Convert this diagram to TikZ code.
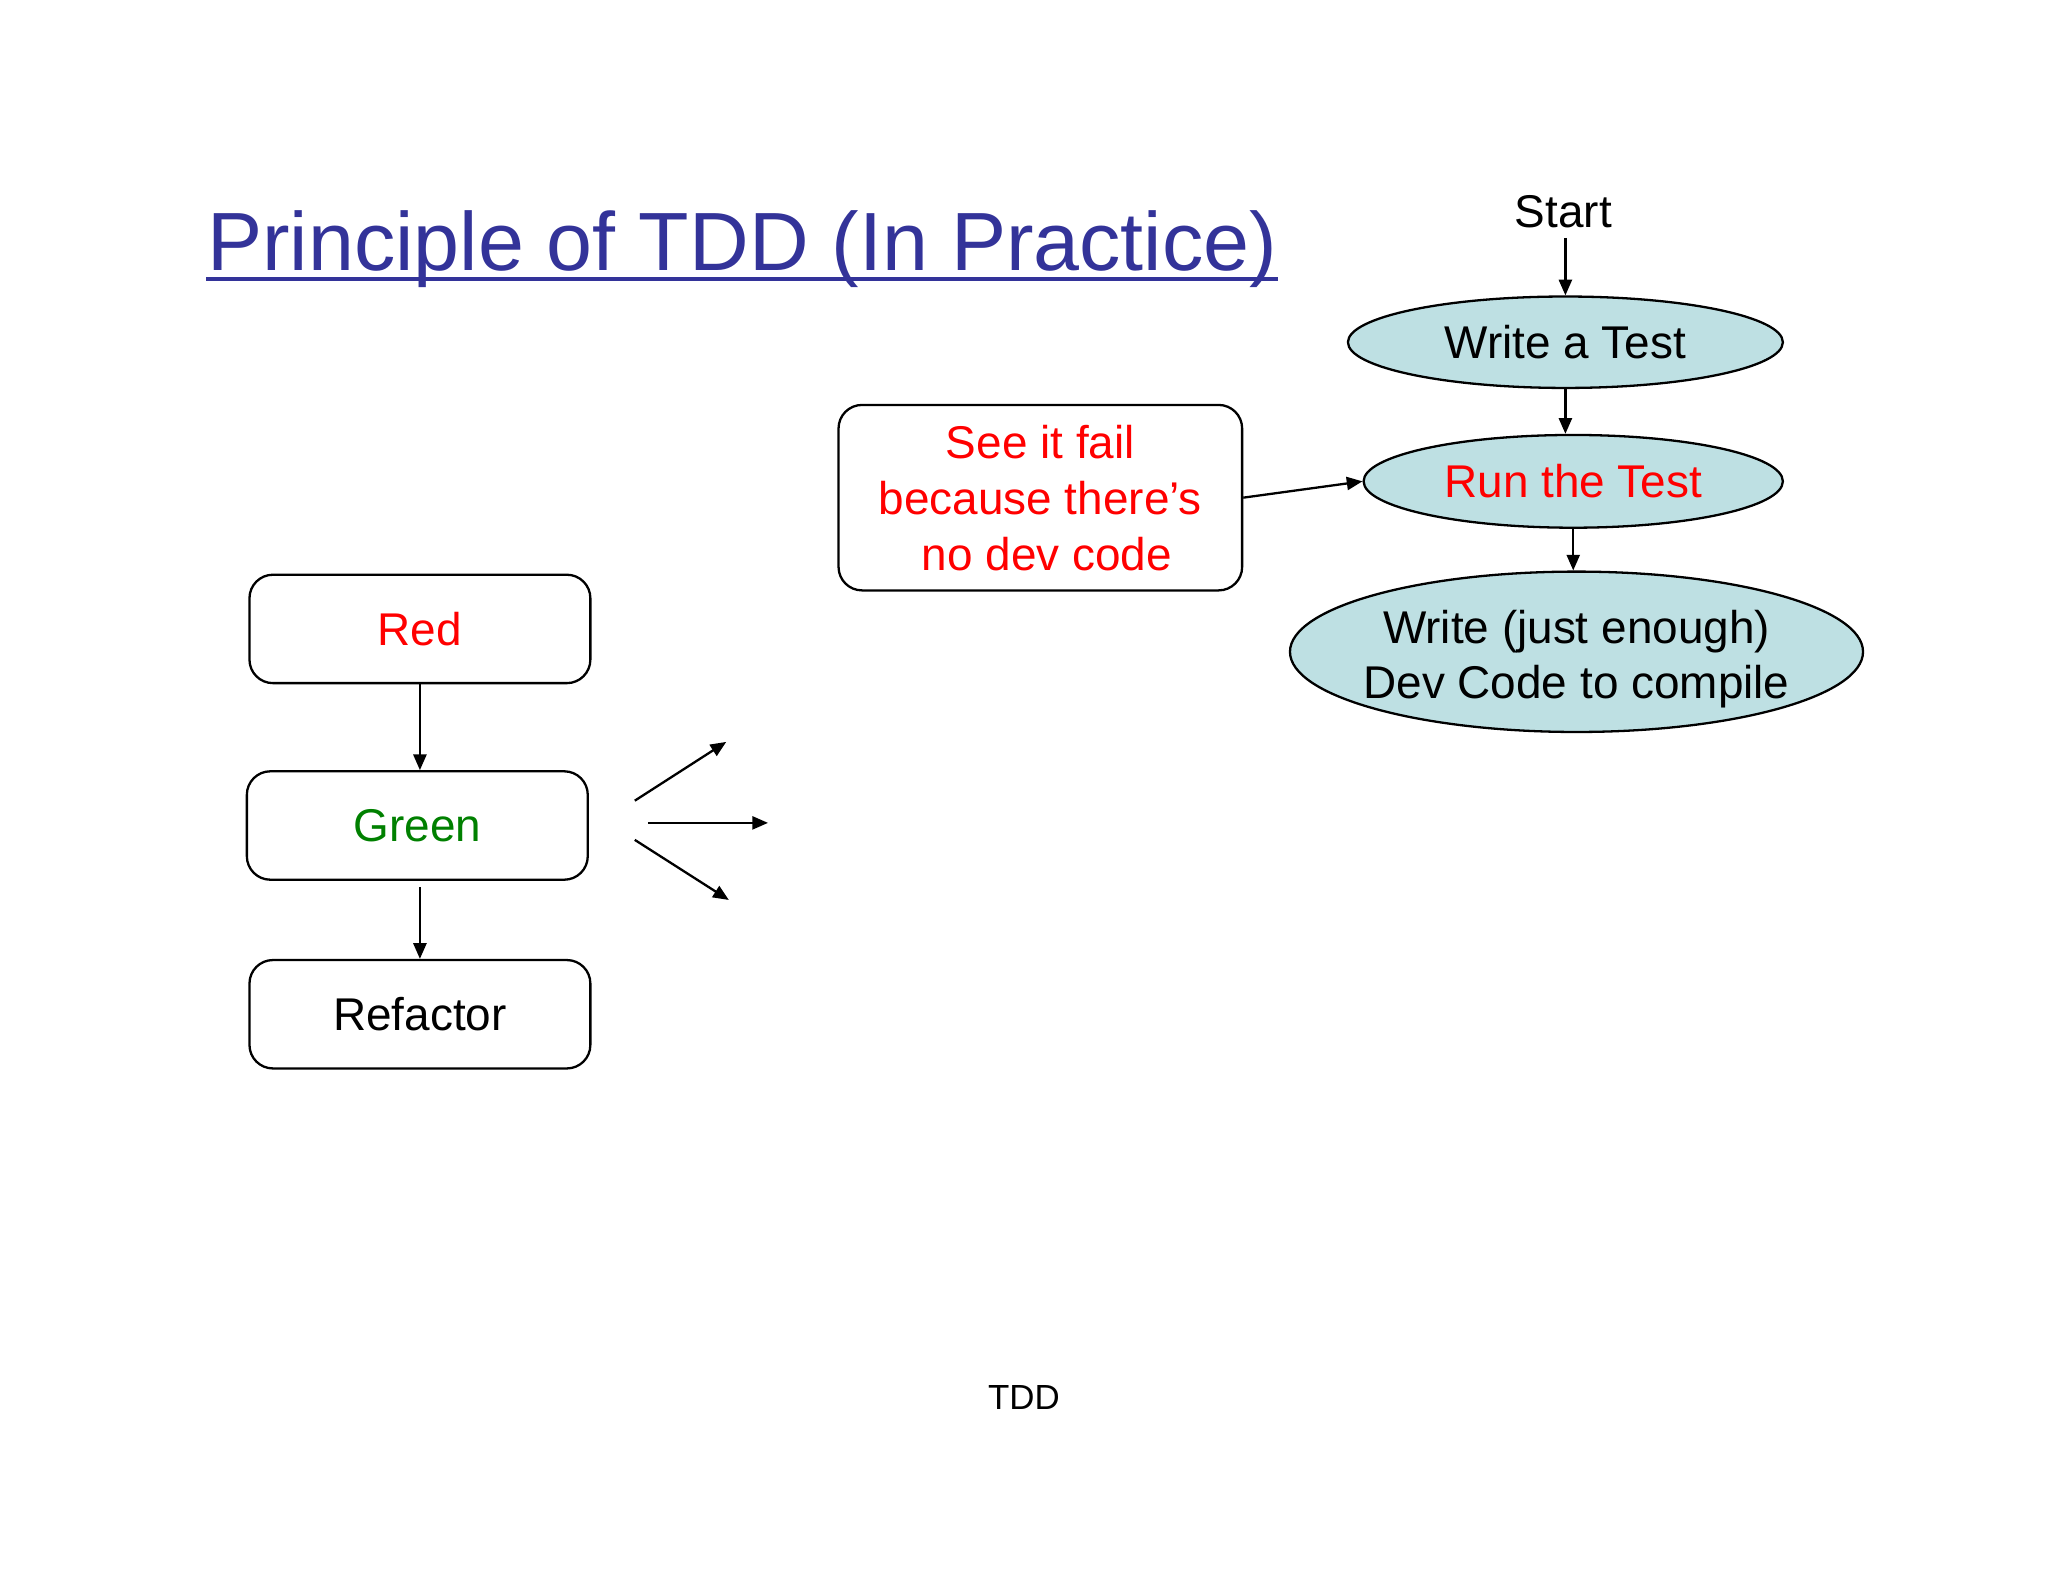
\documentclass[tikz,border=0pt]{standalone}
\usepackage{fontspec}
\setmainfont{Liberation Sans}
\usepackage{tikz}
\usetikzlibrary{shapes.geometric}
\usetikzlibrary{arrows.meta}
\usetikzlibrary{positioning}
\definecolor{titleblue}{RGB}{51,51,153}
\definecolor{bubblefill}{RGB}{190,224,227}
\definecolor{passgreen}{RGB}{0,128,0}
\tikzstyle{node_text}=[font=\fontsize{10}{12.2}\selectfont, inner sep=0pt, align=center]
\tikzstyle{phase_box}=[node_text, draw=black, line width=0.5pt, rounded corners=0.18cm,
    minimum width=2.61cm, minimum height=0.83cm]
\tikzstyle{test_bubble}=[node_text, ellipse, draw=black, line width=0.5pt, fill=bubblefill]
\tikzstyle{flow}=[line width=0.5pt, -{Triangle[length=1.2mm,width=1mm]}]

\begin{document}
\begin{tikzpicture}
\useasboundingbox (0,0) rectangle (15.68,-12.11);
\node[inner sep=0pt, anchor=base west, text=titleblue, font=\fontsize{18}{21}\selectfont] (title) at (1.58,-2.07){Principle of TDD (In Practice)};
\draw[titleblue, line width=1pt] ([yshift=-1.9pt]title.base west) -- ([yshift=-1.9pt]title.base east);
\node[node_text, anchor=base] (st_start) at (11.97,-1.74){Start};
\node[test_bubble, minimum width=3.33cm, minimum height=0.70cm] (st_write) at (11.985,-2.62){Write a Test};
\node[test_bubble, minimum width=3.21cm, minimum height=0.71cm, text=red] (st_run) at (12.045,-3.685){Run the Test};
\node[test_bubble, minimum width=4.38cm, minimum height=1.18cm, inner xsep=-0.08cm,
    font=\fontsize{10}{12.1}\selectfont] (st_code) at (12.07,-4.99){\rule{0pt}{0.37cm}Write (just enough)\\Dev Code to compile};
\node[phase_box, minimum width=3.09cm, minimum height=1.42cm, text=red] (note_fail) at (7.965,-3.81){See it fail\\because there's\\\hspace*{0.1cm}no dev code};
\draw[flow] ([yshift=-0.07cm]st_write.north |- st_start.south) -- (st_write.north);
\draw[flow] (st_write.south) -- (st_write.south |- st_run.north);
\draw[flow] (st_run.south) -- (st_run.south |- st_code.north);
\draw[flow] (note_fail.east) -- (st_run.west);
\node[phase_box, text=red] (ph_red) at (3.215,-4.815){Red};
\node[phase_box, text=passgreen] (ph_green) at (3.195,-6.32){Green};
\node[phase_box] (ph_refactor) at (3.215,-7.765){Refactor};
\draw[flow] (ph_red.south) -- (ph_red.south |- ph_green.north);
\draw[flow, shorten <=0.05cm] (ph_refactor.north |- ph_green.south) -- (ph_refactor.north);
\coordinate (out0_s) at (4.86,-6.13);
\coordinate (out0_e) at (5.56,-5.68);
\coordinate (out1_s) at (4.96,-6.30);
\coordinate (out1_e) at (5.88,-6.30);
\coordinate (out2_s) at (4.86,-6.43);
\coordinate (out2_e) at (5.58,-6.89);
\draw[flow] (out0_s) -- (out0_e);
\draw[flow] (out1_s) -- (out1_e);
\draw[flow] (out2_s) -- (out2_e);
\node[inner sep=0pt, font=\fontsize{7.6}{9}\selectfont] (footer) at (7.84,-10.70){TDD};
\end{tikzpicture}
\end{document}
